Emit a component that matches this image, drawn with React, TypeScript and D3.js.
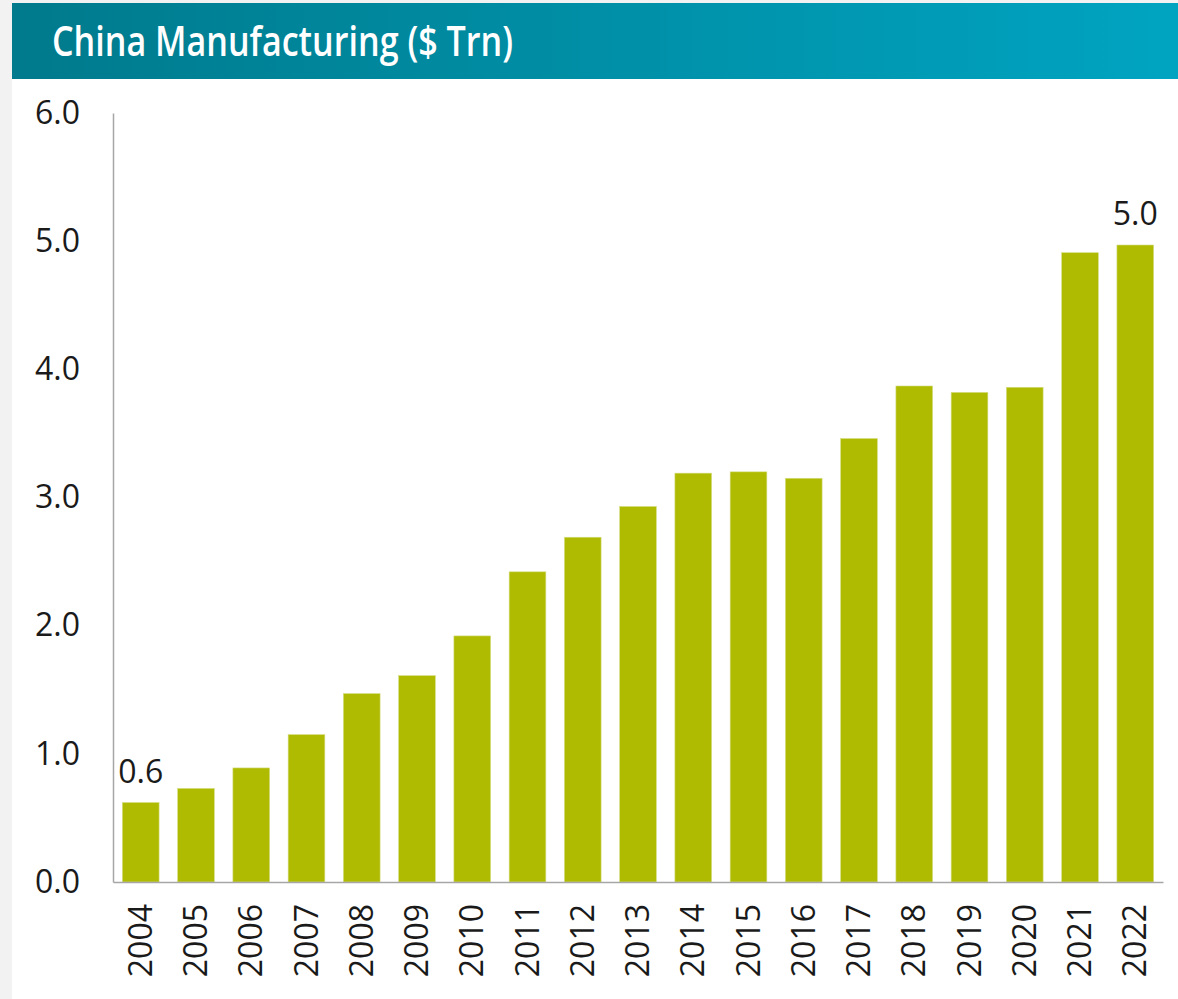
import React, { useEffect, useRef } from 'react';
import * as d3 from 'd3';

const width = 1178,
      height = 999;

const years = ['2004', '2005', '2006', '2007', '2008', '2009', '2010', '2011', '2012', '2013',
               '2014', '2015', '2016', '2017', '2018', '2019', '2020', '2021', '2022'];
const values = [0.62, 0.73, 0.89, 1.15, 1.47, 1.61, 1.92, 2.42, 2.69, 2.93,
                3.19, 3.20, 3.15, 3.46, 3.87, 3.82, 3.86, 4.91, 4.97];
const yTicks = [0, 1, 2, 3, 4, 5, 6];
// only first and last bars carry a label
const labelled = ['2004', '2022'];
const labelText = ['0.6', '5.0'];

const title = 'China Manufacturing ($ Trn)';

const App = () => {
    const ref = useRef<SVGSVGElement>(null);

    useEffect(() => {
        document.body.style.margin = '0';
        renderChart();
    }, []);

    const renderChart = () => {
        const svg = d3.select(ref.current);
        svg.html('');

        const font = "'Open Sans', 'Noto Sans', sans-serif";

        // page background + white panel
        svg.append('rect').attr('width', width).attr('height', height).attr('fill', '#f2f2f2');
        svg.append('rect').attr('x', 12).attr('y', 3).attr('width', width - 12).attr('height', height - 3).attr('fill', '#fff');

        const defs = svg.append('defs');
        const grad = defs.append('linearGradient').attr('id', 'hdr').attr('x1', '0%').attr('x2', '100%');
        grad.append('stop').attr('offset', '0%').attr('stop-color', '#007a8c');
        grad.append('stop').attr('offset', '100%').attr('stop-color', '#00a4c1');

        svg.append('rect')
            .attr('x', 12).attr('y', 3)
            .attr('width', width - 12).attr('height', 76)
            .attr('fill', 'url(#hdr)');

        svg.append('text')
            .text(title)
            .attr('x', 52).attr('y', 56)
            .attr('fill', '#fff')
            .attr('font-family', font)
            .attr('font-weight', 600)
            .attr('font-size', 42)
            .attr('textLength', 461)
            .attr('lengthAdjust', 'spacingAndGlyphs');

        const x = d3.scaleBand().domain(years).range([113, 1163]).paddingInner(0.336).paddingOuter(0.17);
        const y = d3.scaleLinear().domain([0, 6]).range([882, 113]);

        const bars = svg.append('g');
        bars.selectAll('rect')
            .data(years)
            .enter().append('rect')
            .attr('x', d => x(d))
            .attr('y', (d, i) => y(values[i]))
            .attr('width', x.bandwidth())
            .attr('height', (d, i) => y(0) - y(values[i]))
            .attr('fill', '#afbb00')
            .attr('stroke', '#d4dc80')
            .attr('stroke-width', 0.6);

        // data labels
        svg.append('g').selectAll('text')
            .data(labelled)
            .enter().append('text')
            .text((d, i) => labelText[i])
            .attr('x', d => x(d) + x.bandwidth() / 2)
            .attr('y', d => y(values[years.indexOf(d)]) - 20)
            .attr('text-anchor', 'middle')
            .attr('font-family', font)
            .attr('font-size', 32)
            .attr('fill', '#1a1a1a');

        const yAxis = svg.append('g')
            .attr('transform', 'translate(113,0)')
            .call(d3.axisLeft(y).tickValues(yTicks).tickFormat(d3.format('.1f')).tickSize(0).tickPadding(33));
        yAxis.select('.domain').attr('stroke', '#a6a6a6').attr('stroke-width', 1.5);
        yAxis.selectAll('text')
            .attr('font-family', font)
            .attr('font-size', 32)
            .attr('fill', '#1a1a1a');

        const xAxis = svg.append('g')
            .attr('transform', 'translate(0,882)')
            .call(d3.axisBottom(x).tickSize(0).tickSizeOuter(0));
        xAxis.select('.domain').attr('stroke', '#a6a6a6').attr('stroke-width', 1.5);
        xAxis.selectAll('text')
            .attr('font-family', font)
            .attr('font-size', 32)
            .attr('fill', '#1a1a1a')
            .attr('transform', 'rotate(-90)')
            .attr('text-anchor', 'end')
            .attr('x', -22)
            .attr('y', 0)
            .attr('dy', '0.35em');
    };

    return (
        <svg ref={ref} width={width} height={height} style={{ display: 'block' }}></svg>
    );
};

export default App;
